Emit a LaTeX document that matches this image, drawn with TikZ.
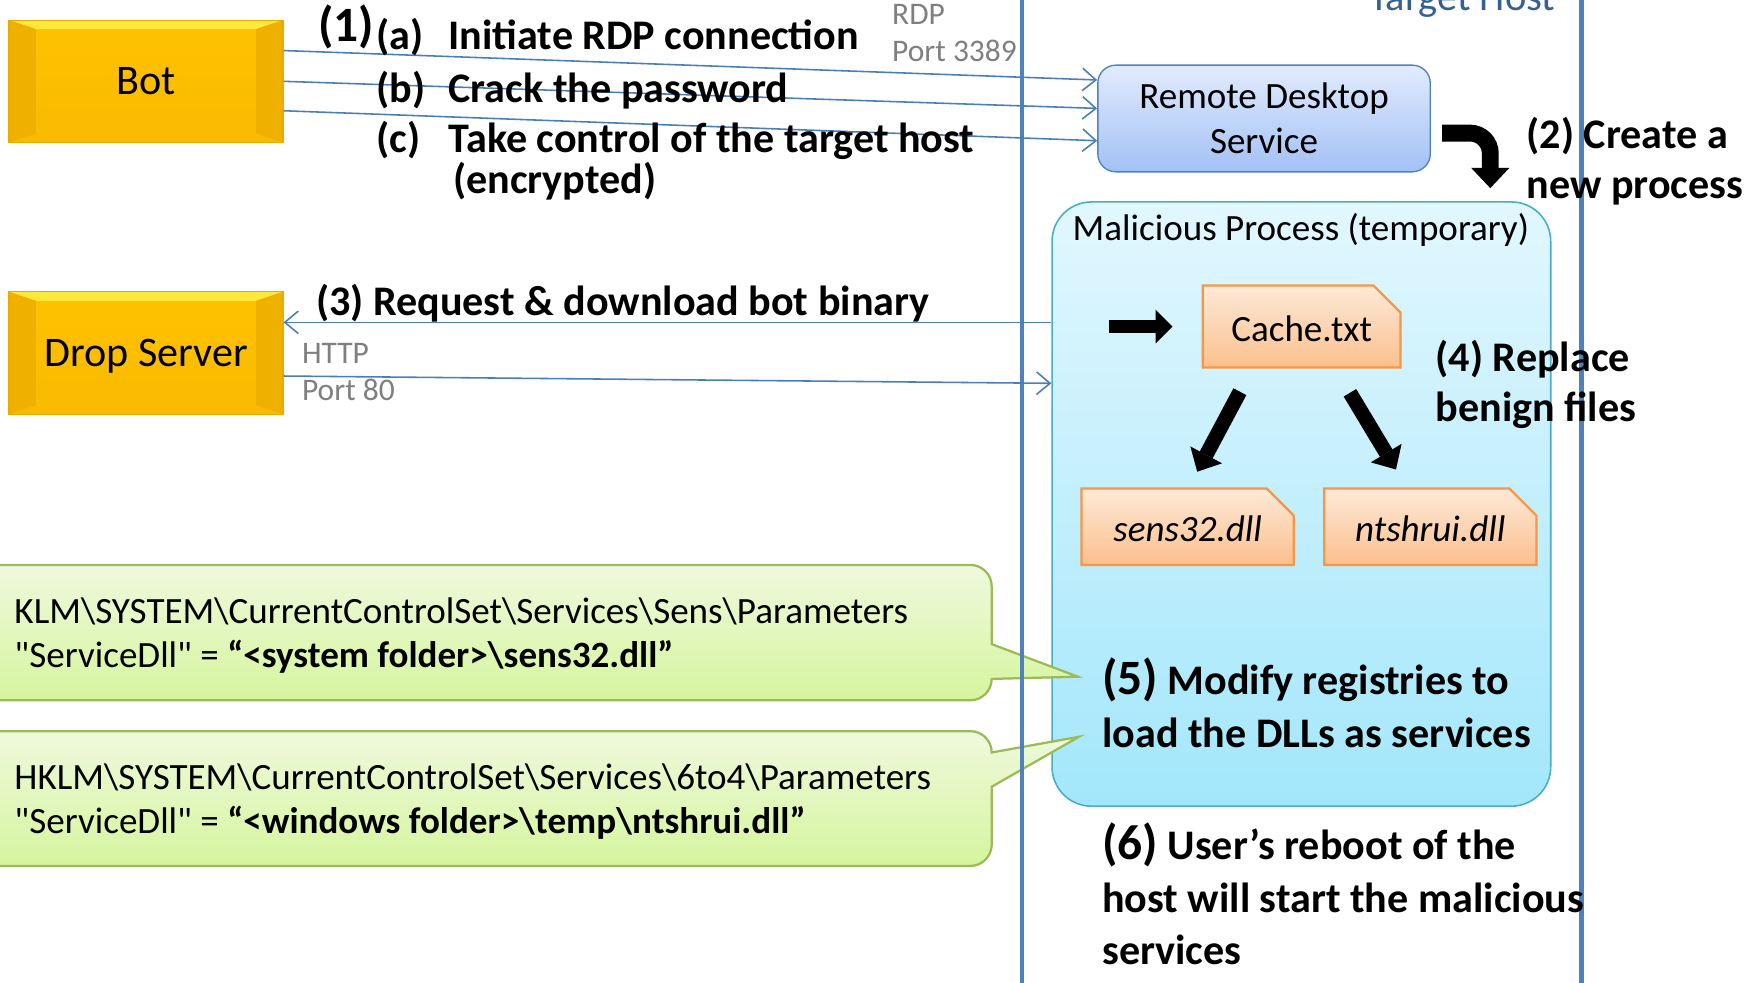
\documentclass[tikz,border=0pt]{standalone}
\usepackage{fontspec}
\setmainfont{Carlito}[Ligatures=TeXOff]
\usepackage{tikz}
\usetikzlibrary{arrows.meta, shapes.misc}
\definecolor{hostblue}{RGB}{79,129,189}
\definecolor{linkblue}{RGB}{74,126,187}
\definecolor{titleblue}{RGB}{55,96,146}
\definecolor{portgrey}{RGB}{127,127,127}
\definecolor{goldtop}{RGB}{255,232,60}
\definecolor{goldmid}{RGB}{255,194,0}
\definecolor{goldbot}{RGB}{250,186,0}
\definecolor{goldside}{RGB}{240,176,0}
\definecolor{goldline}{RGB}{230,172,0}
\definecolor{svctop}{RGB}{225,235,252}
\definecolor{svcbot}{RGB}{163,193,245}
\definecolor{proctop}{RGB}{226,247,254}
\definecolor{procbot}{RGB}{163,231,251}
\definecolor{procline}{RGB}{75,172,198}
\definecolor{filetop}{RGB}{253,233,216}
\definecolor{filebot}{RGB}{251,192,141}
\definecolor{fileline}{RGB}{247,150,70}
\definecolor{regtop}{RGB}{239,249,221}
\definecolor{regbot}{RGB}{213,245,158}
\definecolor{regline}{RGB}{155,187,89}
\newcommand{\lefttext}[1]{\begin{tabular}[t]{@{}l@{}}#1\end{tabular}}
\newcommand{\regsep}{\textbackslash}
\newcommand{\bignum}[1]{{\fontsize{22}{26}\selectfont #1}}

\begin{document}
\begin{tikzpicture}[
  x=0.5pt, y=0.5pt,
  font=\fontsize{16.5}{20}\selectfont,
  server/.style={draw=goldline, line width=0.5pt, top color=goldmid,
                 bottom color=goldbot, inner sep=0pt,
                 minimum width=122pt, minimum height=54.5pt,
                 text height=11.6pt, text depth=0pt,
                 font=\fontsize{18.75}{22}\selectfont,
                 path picture={
                   \fill[goldtop] (path picture bounding box.north west)
                     -- (path picture bounding box.north east)
                     -- ([xshift=-12pt,yshift=-4pt]path picture bounding box.north east)
                     -- ([xshift=12pt,yshift=-4pt]path picture bounding box.north west) -- cycle;
                   \fill[goldside] (path picture bounding box.north west)
                     -- ([xshift=12pt,yshift=-4pt]path picture bounding box.north west)
                     -- ([xshift=12pt,yshift=4pt]path picture bounding box.south west)
                     -- (path picture bounding box.south west) -- cycle;
                   \fill[goldside] (path picture bounding box.north east)
                     -- ([xshift=-12pt,yshift=-4pt]path picture bounding box.north east)
                     -- ([xshift=-12pt,yshift=4pt]path picture bounding box.south east)
                     -- (path picture bounding box.south east) -- cycle;}},
  svc/.style={draw=hostblue, line width=0.6pt, rounded corners=8pt,
              top color=svctop, bottom color=svcbot, align=center,
              minimum width=148pt, minimum height=47.5pt},
  proc/.style={draw=procline, line width=0.7pt, rounded corners=17.5pt,
               top color=proctop, bottom color=procbot, inner sep=0pt,
               minimum width=222pt, minimum height=269pt},
  file/.style={chamfered rectangle, chamfered rectangle corners=north east,
               chamfered rectangle xsep=6pt, chamfered rectangle ysep=6pt,
               draw=fileline, line width=1pt, top color=filetop,
               bottom color=filebot, inner sep=0pt, minimum height=34pt,
               text height=13.5pt, text depth=0pt},
  reg/.style={draw=regline, line width=1pt, top color=regtop, bottom color=regbot},
  hostline/.style={draw=hostblue, line width=2.2pt},
  link/.style={draw=linkblue, line width=0.7pt, -{Straight Barb[length=6pt,width=10pt]}},
  push/.style={draw=black, line width=6.5pt,
               -{Triangle[length=8.5pt,width=16pt,line width=0pt]}},
  stepnote/.style={anchor=base west, inner sep=0pt,
                   font=\fontsize{18.75}{22.25}\selectfont\bfseries},
  port/.style={anchor=base west, inner sep=0pt, text=portgrey,
               font=\fontsize{14}{16.75}\selectfont},
  regtext/.style={anchor=base west, inner sep=0pt,
                  font=\fontsize{16.5}{19.75}\selectfont}]

  \useasboundingbox (0,0) rectangle (1568,-875);
  \clip (0,0) rectangle (1568,-875);

  % --- the malicious process, under everything else
  \node[proc] (proc) at (1158.75,-448.8) {};
  \node[anchor=base] (proctitle) at (1158.3,-213.7) {Malicious Process (temporary)};

  % --- registry callouts, pointing into the process
  \path[reg] (-30,-503) -- (864,-503) arc[start angle=90, end angle=0, radius=9.5pt]
    -- (883,-573.5) -- (959.6,-602.5) -- (883,-604.5)
    arc[start angle=0, end angle=-90, radius=9.5pt] -- (-30,-623.5) -- cycle;
  \path[reg] (-30,-651) -- (864,-651) arc[start angle=90, end angle=0, radius=9.5pt]
    -- (960.7,-656) -- (883,-700.5) -- (883,-752)
    arc[start angle=0, end angle=-90, radius=9.5pt] -- (-30,-771) -- cycle;
  \node[regtext] (reg1) at (12.5,-555)
    {\lefttext{KLM\regsep SYSTEM\regsep CurrentControlSet\regsep Services\regsep Sens\regsep Parameters\\
     "ServiceDll" = \textbf{“<system folder>\regsep sens32.dll”}}};
  \node[regtext] (reg2) at (12.5,-702.7)
    {\lefttext{HKLM\regsep SYSTEM\regsep CurrentControlSet\regsep Services\regsep 6to4\regsep Parameters\\
     "ServiceDll" = \textbf{“<windows folder>\regsep temp\regsep ntshrui.dll”}}};

  % --- target host boundary
  \draw[hostline] (910,0) -- (910,-875);
  \draw[hostline] (1408,0) -- (1408,-875);
  \node[anchor=base west, text=titleblue, font=\fontsize{18}{22}\selectfont]
    (host) at (1212,-9) {Target Host};

  % --- machines and files
  \node[server] (bot)  at (130,-72.4)  {Bot};
  \node[server] (drop) at (130,-314.4) {Drop Server};
  \node[svc]    (rds)  at (1125.5,-105.5) {Remote Desktop\\Service};
  \node[file, minimum width=88pt, minimum height=36.5pt] (cache) at (1159,-290.75) {Cache.txt};
  \node[file, minimum width=94.5pt, font=\fontsize{16.5}{20}\selectfont\itshape]
    (sens) at (1057.5,-469) {sens32.dll};
  \node[file, minimum width=94.5pt, font=\fontsize{16.5}{20}\selectfont\itshape]
    (ntsh) at (1273.5,-469) {ntshrui.dll};

  % --- (1) RDP session
  \draw[link] ([yshift=13.7pt]bot.east) -- ([yshift=17.15pt]rds.west);
  \draw[link] (bot.east) -- ([yshift=4.5pt]rds.west);
  \draw[link] ([yshift=-13.1pt]bot.east) -- ([yshift=-9.9pt]rds.west);
  \node[stepnote, font=\fontsize{22}{26}\selectfont\bfseries] (s1) at (283,-37) {(1)};
  \node[stepnote] (s1a) at (335,-44) {\makebox[32pt][l]{(a)}Initiate RDP connection};
  \node[stepnote] (s1b) at (335,-91) {\makebox[32pt][l]{(b)}Crack the password};
  \node[stepnote] (s1c) at (335,-136) {\makebox[32pt][l]{(c)}Take control of the target host};
  \node[stepnote] (s1d) at (403,-172) {(encrypted)};
  \node[port] (rdp) at (794,-21.4) {\lefttext{RDP\\Port 3389}};

  % --- (2) new process
  \draw[push, line width=7.5pt, rounded corners=9pt,
        -{Triangle[length=9pt,width=17pt,line width=0pt]}]
    ([xshift=5pt,yshift=-6.5pt]rds.east) -| ([xshift=84.1pt,yshift=5.8pt]proc.north);
  \node[stepnote] (s2) at (1359,-132) {\lefttext{(2) Create a\\new process}};

  % --- (3) download
  \draw[link] ([yshift=80.9pt]proc.west) -- ([yshift=13.7pt]drop.east);
  \draw[link] ([yshift=-10.2pt]drop.east) -- ([yshift=53.75pt]proc.west);
  \node[stepnote] (s3) at (281,-281) {(3) Request \& download bot binary};
  \node[port] (http) at (268.6,-323.5) {\lefttext{HTTP\\Port 80}};

  % --- (4) replace files
  \draw[push, line width=6pt, -{Triangle[length=7.5pt,width=15pt,line width=0pt]}]
    ([xshift=-41.5pt]cache.west) -- ([xshift=-13pt]cache.west);
  \draw[push] ([xshift=-27.5pt,yshift=-10.25pt]cache.south) -- ([xshift=4.25pt,yshift=7pt]sens.north);
  \draw[push] ([xshift=21.5pt,yshift=-10.75pt]cache.south) -- ([xshift=-15.25pt,yshift=8pt]ntsh.north);
  \node[stepnote] (s4) at (1278,-331) {\lefttext{(4) Replace\\benign files}};

  % --- (5) and (6)
  \node[stepnote, font=\fontsize{18.75}{23.25}\selectfont\bfseries] (s5) at (981,-618.8)
    {\lefttext{\bignum{(5)} Modify registries to\\load the DLLs as services}};
  \node[stepnote, font=\fontsize{18.75}{23.25}\selectfont\bfseries] (s6) at (981,-765.7)
    {\lefttext{\bignum{(6)} User’s reboot of the\\host will start the malicious\\services}};
\end{tikzpicture}
\end{document}
